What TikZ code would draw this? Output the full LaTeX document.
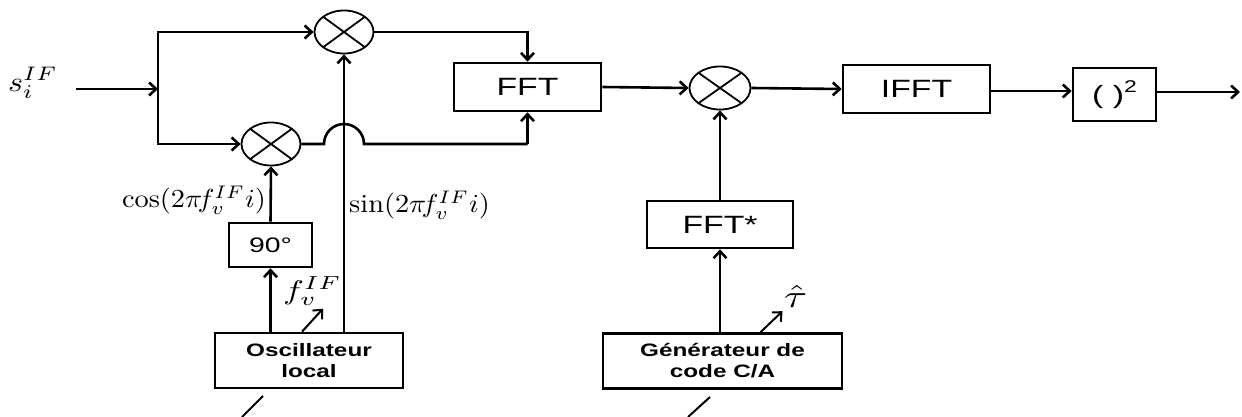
\documentclass[tikz,border=0pt]{standalone}
\usepackage{fontspec}
\setsansfont{Liberation Sans}
\usepackage{graphicx}
\usetikzlibrary{shapes.geometric,arrows.meta,calc}
\newcommand{\sx}[1]{\scalebox{1.35}[1]{#1}}
\newcommand{\mth}[3]{\scalebox{#1}[#2]{$#3$}}
\begin{document}
\begin{tikzpicture}[x=1pt,y=-1pt,
  box/.style={draw,line width=2.6pt,inner sep=0pt,align=center,
    font=\sffamily\fontsize{25}{28}\selectfont},
  smallbox/.style={box,font=\sffamily\bfseries\fontsize{18}{21}\selectfont},
  mult/.style={ellipse,draw,line width=1.8pt,inner sep=0pt,
    minimum width=59pt,minimum height=43pt,
    path picture={\draw[line width=1.8pt]
      (path picture bounding box.north west) -- (path picture bounding box.south east)
      (path picture bounding box.south west) -- (path picture bounding box.north east);}},
  conn/.style={line width=2.6pt},
  arr/.style={conn,-{Straight Barb[length=7pt,width=13pt]}},
  lab/.style={inner sep=0pt},
]
\useasboundingbox (0,0) rectangle (1242,417);
% multipliers
\node[mult] (m1) at (344,32) {};
\node[mult] (m2) at (271,144) {};
\node[mult,minimum width=61pt] (m3) at (720,88) {};
% boxes
\node[box,minimum width=147pt,minimum height=48pt] (fft) at (527.5,87) {\sx{FFT}};
\node[box,minimum width=147pt,minimum height=48pt] (ifft) at (916.5,89) {\sx{IFFT}};
\node[box,minimum width=83pt,minimum height=53pt] (sq) at (1114.5,94.5) {\sx{( )\raisebox{0.45em}{\fontsize{17}{20}\selectfont 2}}};
\node[box,minimum width=83pt,minimum height=44pt,font=\sffamily\fontsize{21}{24}\selectfont] (ninety) at (270.5,245) {\sx{90°}};
\node[box,minimum width=146pt,minimum height=47pt] (fftc) at (720,224.5) {\sx{FFT*}};
\node[smallbox,minimum width=188pt,minimum height=55pt] (osc) at (309,360.5) {\sx{Oscillateur}\\\sx{local}};
\node[smallbox,minimum width=239pt,minimum height=55pt] (gen) at (722.5,361) {\sx{Générateur de}\\\sx{code C/A}};
% labels
\node[lab,anchor=west] (s) at (8,83) {\mth{3.2}{2.8}{s_i^{IF}}};
\node[lab,anchor=east] (cosl) at (266,200) {\mth{2.835}{2.6}{\cos(2\pi\! f_v^{IF} i)}};
\node[lab,anchor=west] (sinl) at (349,205) {\mth{2.835}{2.6}{\sin(2\pi\! f_v^{IF} i)}};
\node[lab,anchor=west] (fl) at (283,291) {\mth{3.5}{2.7}{f_v^{IF}}};
\node[lab,anchor=west] (tl) at (784,296) {\mth{4.2}{3.2}{\hat{\tau}}};
% coordinates
\coordinate (in) at (76,89);
\coordinate (split) at (158,89);
\coordinate (out) at (1240,92);
% input and split
\draw[arr] (in) -- (split);
\draw[arr] (split) |- (m1.west);
\draw[arr] (split) |- (m2.west);
% to FFT
\draw[arr] (m1.east) -| (fft.north);
\draw[conn] (m2.east) -- ($(m1.center |- m2.center)+(-20,0)$)
  arc[start angle=180,end angle=0,radius=20pt]
  -- (fft.south |- m2.center);
\draw[arr] (fft.south |- m2.center) -- (fft.south);
% chain
\draw[arr] (fft.east) -- (m3.west);
\draw[arr] (m3.east) -- (ifft.west);
\draw[arr] (ifft.east) ++(0,2) -- (sq.west |- 0,91);
\draw[arr] (sq.east |- 0,92) -- (out);
% local oscillator
\draw[arr] (osc.north -| ninety.south) -- (ninety.south);
\draw[arr] (ninety.north) -- (m2.south);
\draw[arr] (osc.north -| m1.south) -- (m1.south);
\draw[arr,line width=2pt] ($(osc.north)+(-7,0)$) -- ++(21,-23);
% code generator
\draw[arr] (gen.north -| fftc.south) -- (fftc.south);
\draw[arr] (fftc.north) -- (m3.south);
\draw[arr,line width=2pt] ($(gen.north)+(38,0)$) -- ++(22,-21);
% slashes
\coordinate (o1) at (263,396);
\coordinate (o2) at (710,397);
\draw[conn,line width=2pt] (o1) -- ++(-21,21);
\draw[conn,line width=2pt] (o2) -- ++(-22,20);
\end{tikzpicture}
\end{document}
